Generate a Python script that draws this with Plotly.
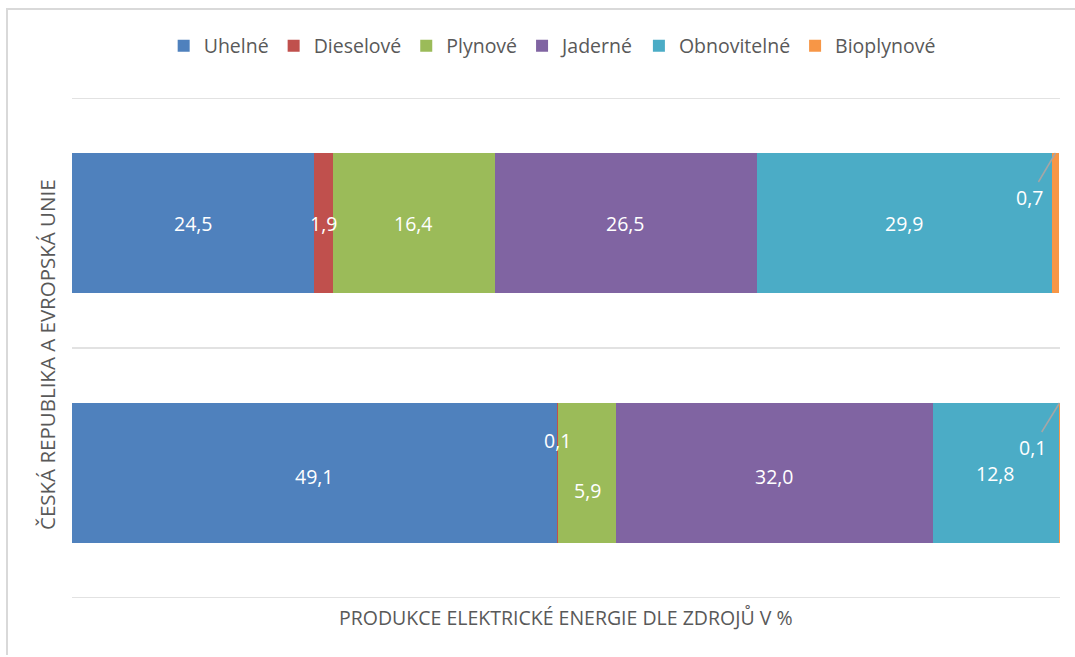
import plotly.graph_objects as go

# Electricity production by source, in percent
sources = ["Uhelné", "Dieselové", "Plynové", "Jaderné", "Obnovitelné", "Bioplynové"]
colors = ["#4F81BD", "#C0504D", "#9BBB59", "#8064A2", "#4BACC6", "#F79646"]
regions = ["Česká republika", "Evropská unie"]
cz_values = [49.1, 0.1, 5.9, 32.0, 12.8, 0.1]
eu_values = [24.5, 1.9, 16.4, 26.5, 29.9, 0.7]

FONT = "Open Sans"
FS = 19.5
BAR_W = 0.56
y_pos = [0, 1]
series = list(zip(cz_values, eu_values))

fig = go.Figure()
for name, color, vals in zip(sources, colors, series):
    fig.add_trace(go.Bar(
        y=y_pos, x=list(vals), name=name, orientation="h",
        marker=dict(color=color, line=dict(width=0)),
        width=BAR_W, hoverinfo="skip",
    ))

# label placement tweaks (pixel shifts, leader lines) per (region, source)
label_style = {
    (0, 1): dict(yshift=33),
    (0, 2): dict(yshift=-17),
    (0, 3): dict(yshift=-3),
    (0, 0): dict(yshift=-3),
    (0, 5): dict(leader=(-27, 44)),
    (1, 5): dict(leader=(-26, 44)),
}

def fmt(v):
    return f"{v:.1f}".replace(".", ",")

for ri, vals in enumerate([cz_values, eu_values]):
    start = 0.0
    for si, v in enumerate(vals):
        center = start + v / 2
        start += v
        st = label_style.get((ri, si), {})
        if "leader" in st:
            ax, ay = st["leader"]
            fig.add_annotation(
                x=center, y=y_pos[ri] + BAR_W / 2, text=fmt(v),
                showarrow=True, arrowhead=0, arrowwidth=1.5, arrowcolor="#A6A6A6",
                ax=ax, ay=ay, standoff=0,
                font=dict(family=FONT, size=FS, color="white"),
            )
        else:
            fig.add_annotation(
                x=center, y=y_pos[ri], text=fmt(v), showarrow=False,
                yshift=st.get("yshift", 0),
                font=dict(family=FONT, size=FS, color="white"),
            )

# category separators (horizontal grid lines)
for yb in [-0.5, 0.5, 1.5]:
    fig.add_shape(type="line", xref="paper", yref="y", x0=0, x1=1, y0=yb, y1=yb,
                  line=dict(color="#D9D9D9", width=1.5), layer="below")

# axis titles
fig.add_annotation(
    xref="paper", yref="paper", x=0.5, y=-0.038, yanchor="middle",
    text="PRODUKCE ELEKTRICKÉ ENERGIE DLE ZDROJŮ V %", showarrow=False,
    font=dict(family=FONT, size=FS, color="#595959"),
)
fig.add_annotation(
    xref="paper", yref="paper", x=-0.0253, y=0.486, textangle=-90,
    xanchor="center", yanchor="middle",
    text="ČESKÁ REPUBLIKA A EVROPSKÁ UNIE", showarrow=False,
    font=dict(family=FONT, size=FS + 1, color="#595959"),
)

# outer frame (left and top edges)
fig.add_shape(type="line", xref="paper", yref="paper",
              x0=-0.0658, x1=-0.0658, y0=1.178, y1=-0.114,
              line=dict(color="#D9D9D9", width=2))
fig.add_shape(type="line", xref="paper", yref="paper",
              x0=-0.0668, x1=1.02, y0=1.178, y1=1.178,
              line=dict(color="#D9D9D9", width=2))

fig.update_layout(
    barmode="stack",
    width=1075, height=657,
    margin=dict(l=72, r=15, t=98, b=59),
    paper_bgcolor="white", plot_bgcolor="white",
    font=dict(family=FONT, size=FS, color="#595959"),
    showlegend=True,
    legend=dict(orientation="h", x=0.486, xanchor="center", y=1.104, yanchor="middle",
                font=dict(family=FONT, size=FS, color="#595959"),
                itemwidth=30, traceorder="normal"),
    xaxis=dict(range=[0, 100], showgrid=False, zeroline=False, showticklabels=False,
               ticks="", showline=False, fixedrange=True),
    yaxis=dict(range=[-0.5, 1.5], showticklabels=False, showgrid=False,
               zeroline=False, ticks="", showline=False, fixedrange=True),
)

fig.write_html("out.html")
